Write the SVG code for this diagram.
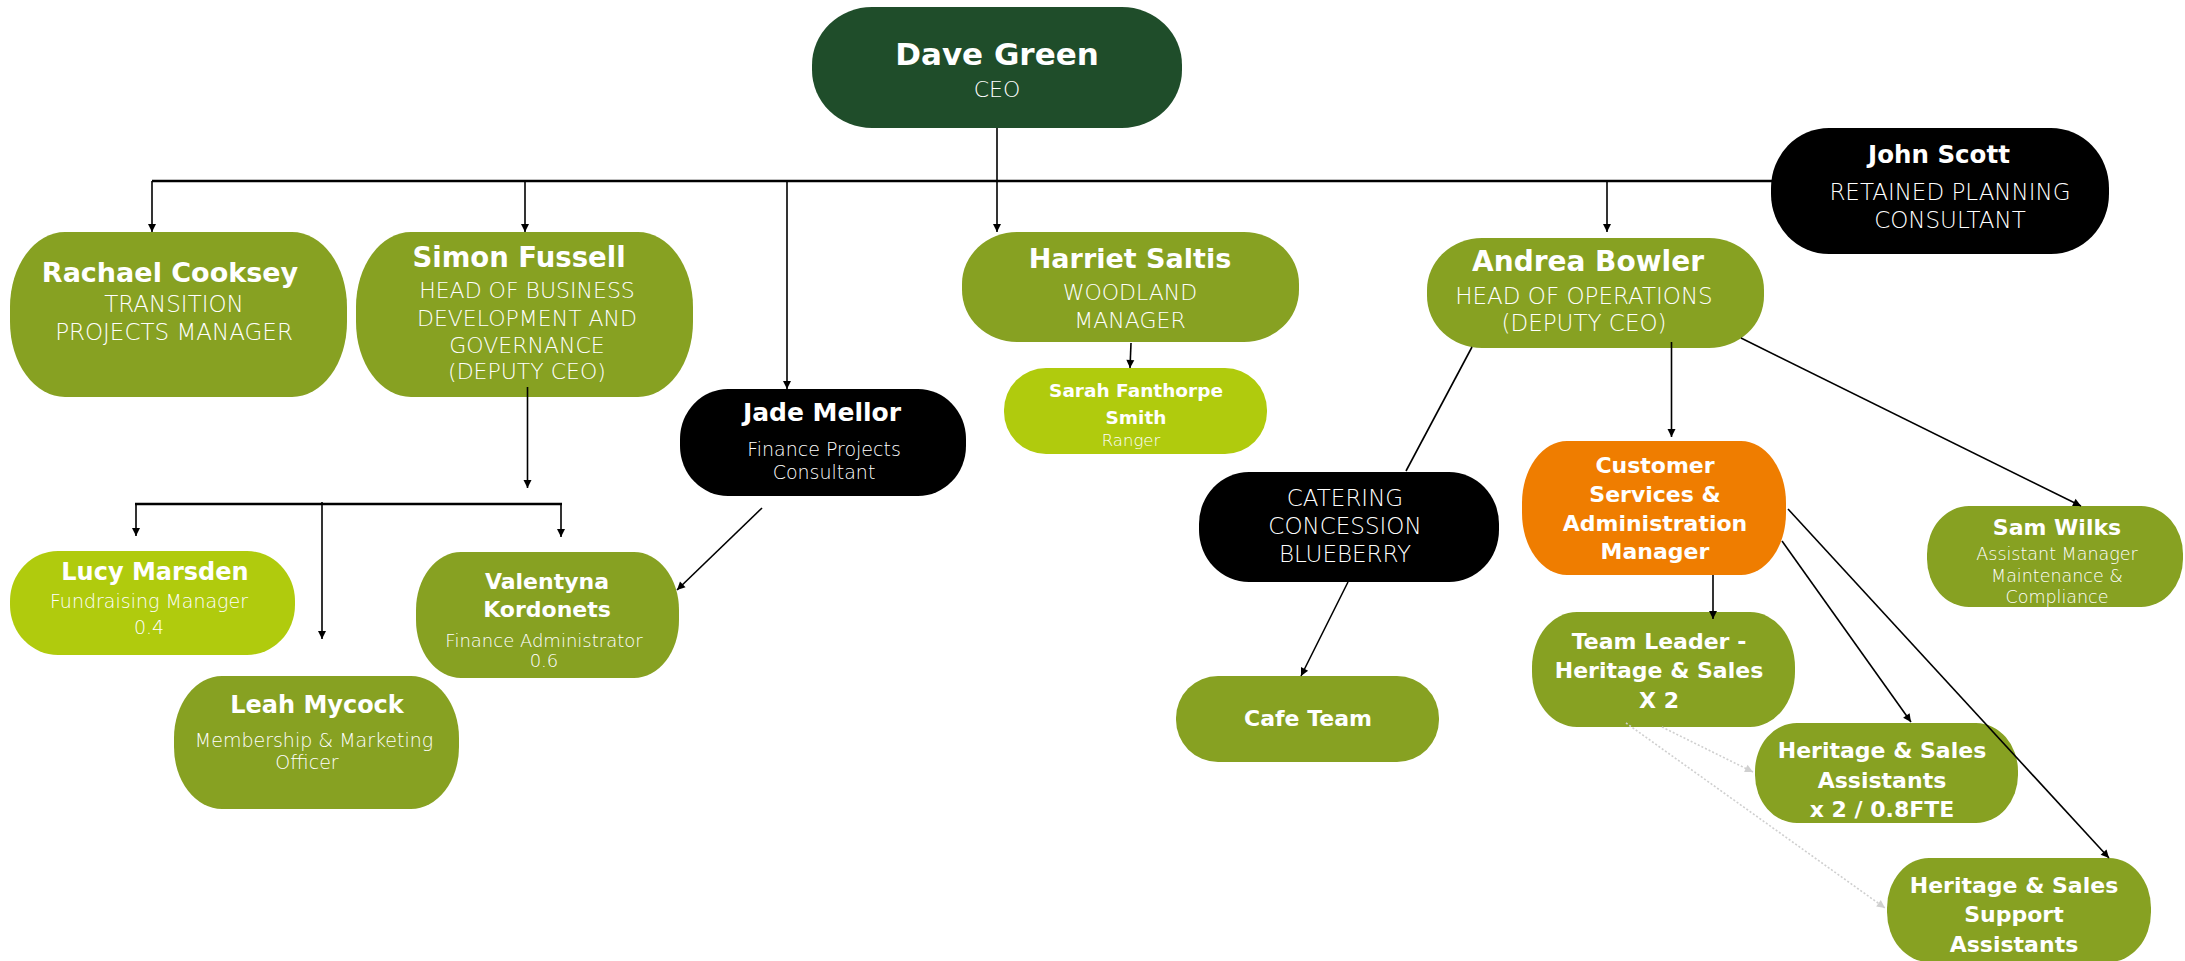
<svg xmlns="http://www.w3.org/2000/svg" width="2185" height="961" viewBox="0 0 2185 961">
<style>
.olive{fill:#87a122}
.lime{fill:#b0cb0d}
.dark{fill:#1f4d2a}
.black{fill:#000}
.orange{fill:#ef7d00}
text{font-family:"DejaVu Sans","Open Sans",sans-serif;fill:#fff;text-anchor:middle}
.b{font-weight:700}
.l{font-weight:300}
.c{fill:none;stroke:#000;stroke-width:1.6}
.thick{stroke-width:2.6}
.dot{fill:none;stroke:#cfcfcf;stroke-width:1.6;stroke-dasharray:2 2}
</style>
<defs>
<marker id="ah" markerWidth="10" markerHeight="10" refX="9" refY="5" orient="auto" markerUnits="userSpaceOnUse">
<path d="M1,1 L9,5 L1,9 Z" fill="#000"/>
</marker>
<marker id="ahg" markerWidth="10" markerHeight="10" refX="9" refY="5" orient="auto" markerUnits="userSpaceOnUse">
<path d="M1,1 L9,5 L1,9 Z" fill="#d0d0d0"/>
</marker>
</defs>
<rect width="2185" height="961" fill="#fff"/>

<g id="dave">
<rect class="dark" x="812" y="7" width="370" height="121" rx="60" ry="58"/>
<text class="b" x="997" y="65" font-size="31">Dave Green</text>
<text class="l" x="997" y="97" font-size="22">CEO</text>
</g>
<g id="rachael">
<rect class="olive" x="10" y="232" width="337" height="165" rx="55" ry="75"/>
<text class="b" x="170" y="282" font-size="27">Rachael Cooksey</text>
<text class="l" x="174" y="312" font-size="23">TRANSITION</text>
<text class="l" x="174" y="340" font-size="23">PROJECTS MANAGER</text>
</g>
<g id="simon">
<rect class="olive" x="356" y="232" width="337" height="165" rx="55" ry="75"/>
<text class="b" x="519" y="267" font-size="27.5">Simon Fussell</text>
<text class="l" x="527" y="298" font-size="22">HEAD OF BUSINESS</text>
<text class="l" x="527" y="326" font-size="22">DEVELOPMENT AND</text>
<text class="l" x="527" y="353" font-size="22">GOVERNANCE</text>
<text class="l" x="527" y="379" font-size="22">(DEPUTY CEO)</text>
</g>
<g id="harriet">
<rect class="olive" x="962" y="232" width="337" height="110" rx="55" ry="52"/>
<text class="b" x="1130" y="268" font-size="27">Harriet Saltis</text>
<text class="l" x="1130" y="300" font-size="22">WOODLAND</text>
<text class="l" x="1130" y="328" font-size="22">MANAGER</text>
</g>
<g id="andrea">
<rect class="olive" x="1427" y="238" width="337" height="110" rx="55" ry="52"/>
<text class="b" x="1588" y="271" font-size="28">Andrea Bowler</text>
<text class="l" x="1584" y="304" font-size="23">HEAD OF OPERATIONS</text>
<text class="l" x="1584" y="331" font-size="23">(DEPUTY CEO)</text>
</g>
<g id="john">
<rect class="black" x="1771" y="128" width="338" height="126" rx="58" ry="60"/>
<text class="b" x="1939" y="163" font-size="24.5">John Scott</text>
<text class="l" x="1950" y="200" font-size="23">RETAINED PLANNING</text>
<text class="l" x="1950" y="228" font-size="23">CONSULTANT</text>
</g>
<g id="jade">
<rect class="black" x="680" y="389" width="286" height="107" rx="48" ry="50"/>
<text class="b" x="822" y="421" font-size="25">Jade Mellor</text>
<text class="l" x="824" y="456" font-size="19">Finance Projects</text>
<text class="l" x="824" y="479" font-size="19">Consultant</text>
</g>
<g id="sarah">
<rect class="lime" x="1004" y="368" width="263" height="86" rx="42" ry="42"/>
<text class="b" x="1136" y="397" font-size="18.5">Sarah Fanthorpe</text>
<text class="b" x="1136" y="424" font-size="18.5">Smith</text>
<text class="l" x="1131" y="446" font-size="16.5">Ranger</text>
</g>
<g id="lucy">
<rect class="lime" x="10" y="551" width="285" height="104" rx="48" ry="50"/>
<text class="b" x="155" y="580" font-size="24">Lucy Marsden</text>
<text class="l" x="149" y="608" font-size="19">Fundraising Manager</text>
<text class="l" x="149" y="634" font-size="19">0.4</text>
</g>
<g id="valentyna">
<rect class="olive" x="416" y="552" width="263" height="126" rx="45" ry="58"/>
<text class="b" x="547" y="589" font-size="22">Valentyna</text>
<text class="b" x="547" y="617" font-size="22">Kordonets</text>
<text class="l" x="544" y="647" font-size="18">Finance Administrator</text>
<text class="l" x="544" y="667" font-size="18">0.6</text>
</g>
<g id="leah">
<rect class="olive" x="174" y="676" width="285" height="133" rx="48" ry="62"/>
<text class="b" x="317" y="713" font-size="24">Leah Mycock</text>
<text class="l" x="314" y="747" font-size="19">Membership &amp; Marketing</text>
<text class="l" x="307" y="769" font-size="19">Officer</text>
</g>
<g id="catering">
<rect class="black" x="1199" y="472" width="300" height="110" rx="50" ry="52"/>
<text class="l" x="1345" y="506" font-size="23">CATERING</text>
<text class="l" x="1345" y="534" font-size="23">CONCESSION</text>
<text class="l" x="1345" y="562" font-size="23">BLUEBERRY</text>
</g>
<g id="cafe">
<rect class="olive" x="1176" y="676" width="263" height="86" rx="42" ry="42"/>
<text class="b" x="1308" y="726" font-size="22">Cafe Team</text>
</g>
<g id="customer">
<rect class="orange" x="1522" y="441" width="264" height="134" rx="45" ry="62"/>
<text class="b" x="1655" y="473" font-size="22">Customer</text>
<text class="b" x="1655" y="502" font-size="22">Services &amp;</text>
<text class="b" x="1655" y="531" font-size="22">Administration</text>
<text class="b" x="1655" y="559" font-size="22">Manager</text>
</g>
<g id="teamleader">
<rect class="olive" x="1532" y="612" width="263" height="115" rx="45" ry="55"/>
<text class="b" x="1659" y="649" font-size="22">Team Leader -</text>
<text class="b" x="1659" y="678" font-size="22">Heritage &amp; Sales</text>
<text class="b" x="1659" y="708" font-size="22">X 2</text>
</g>
<g id="hsassistants">
<rect class="olive" x="1755" y="723" width="263" height="100" rx="42" ry="48"/>
<text class="b" x="1882" y="758" font-size="22">Heritage &amp; Sales</text>
<text class="b" x="1882" y="788" font-size="22">Assistants</text>
<text class="b" x="1882" y="817" font-size="22">x 2 / 0.8FTE</text>
</g>
<g id="hssupport">
<rect class="olive" x="1887" y="858" width="264" height="104" rx="42" ry="50"/>
<text class="b" x="2014" y="893" font-size="22">Heritage &amp; Sales</text>
<text class="b" x="2014" y="922" font-size="22">Support</text>
<text class="b" x="2014" y="952" font-size="22">Assistants</text>
</g>
<g id="sam">
<rect class="olive" x="1927" y="506" width="256" height="101" rx="42" ry="48"/>
<text class="b" x="2057" y="535" font-size="22">Sam Wilks</text>
<text class="l" x="2057" y="560" font-size="17.5">Assistant Manager</text>
<text class="l" x="2057" y="582" font-size="17.5">Maintenance &amp;</text>
<text class="l" x="2057" y="603" font-size="17.5">Compliance</text>
</g>

<g id="connectors">
<line class="c thick" x1="152" y1="181" x2="1772" y2="181"/>
<line class="c" x1="152" y1="181" x2="152" y2="232" marker-end="url(#ah)"/>
<line class="c" x1="525" y1="181" x2="525" y2="232" marker-end="url(#ah)"/>
<line class="c" x1="787" y1="181" x2="787" y2="389" marker-end="url(#ah)"/>
<line class="c" x1="997" y1="128" x2="997" y2="232" marker-end="url(#ah)"/>
<line class="c" x1="1607" y1="181" x2="1607" y2="232" marker-end="url(#ah)"/>
<line class="c" x1="1131" y1="343" x2="1130" y2="368" marker-end="url(#ah)"/>
<line class="c" x1="527.5" y1="387" x2="527.5" y2="488" marker-end="url(#ah)"/>
<line class="c thick" x1="135" y1="504" x2="562" y2="504"/>
<line class="c" x1="136" y1="504" x2="136" y2="536" marker-end="url(#ah)"/>
<line class="c" x1="561" y1="504" x2="561" y2="537" marker-end="url(#ah)"/>
<line class="c" x1="322" y1="502" x2="322" y2="639" marker-end="url(#ah)"/>
<line class="c" x1="762" y1="508" x2="677" y2="590" marker-end="url(#ah)"/>
<line class="c" x1="1472" y1="347" x2="1406" y2="471"/>
<line class="c" x1="1671.5" y1="342" x2="1671.5" y2="437" marker-end="url(#ah)"/>
<line class="c" x1="1741" y1="338" x2="2081" y2="506" marker-end="url(#ah)"/>
<line class="c" x1="1348" y1="582" x2="1301" y2="676" marker-end="url(#ah)"/>
<line class="c" x1="1713" y1="575" x2="1713" y2="619" marker-end="url(#ah)"/>
<line class="c" x1="1782" y1="541" x2="1911" y2="722" marker-end="url(#ah)"/>
<line class="c" x1="1788" y1="509" x2="2109" y2="858" marker-end="url(#ah)"/>
<line class="dot" x1="1626" y1="723" x2="1885" y2="908" marker-end="url(#ahg)"/>
<line class="dot" x1="1662" y1="727" x2="1753" y2="772" marker-end="url(#ahg)"/>
</g>
</svg>
